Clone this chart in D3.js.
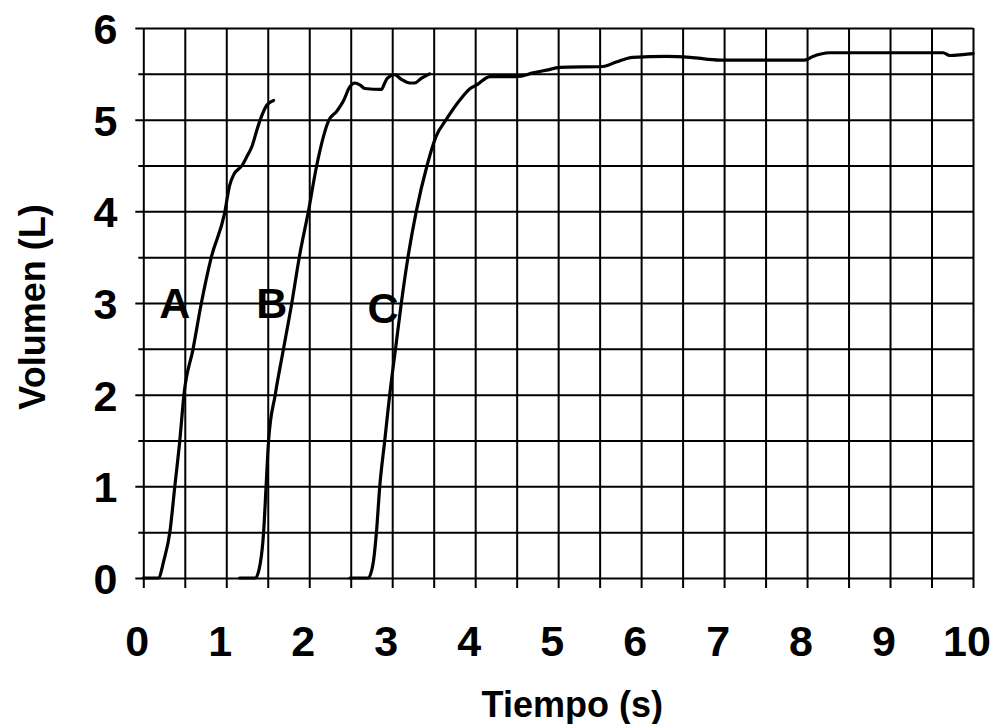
<!DOCTYPE html>
<html>
<head>
<meta charset="utf-8">
<script src="https://cdn.jsdelivr.net/npm/d3@7"></script>
<style>
  body { margin: 0; background: #fff; }
  svg { display: block; font-family: "Liberation Sans", Arial, sans-serif; }
</style>
</head>
<body>
<div id="chart"></div>
<script>
// curve A
const tA = [0, 0.18, 0.25, 0.32, 0.38, 0.44, 0.49, 0.60, 0.70, 0.82, 0.98, 1.04, 1.09, 1.19, 1.25, 1.31, 1.37, 1.41, 1.49, 1.57];
const vA = [0, 0, 0.2, 0.5, 1.0, 1.5, 2.0, 2.5, 3.0, 3.5, 3.98, 4.28, 4.40, 4.50, 4.60, 4.71, 4.89, 5.0, 5.16, 5.21];
// curve B
const tB = [1.16, 1.35, 1.41, 1.45, 1.48, 1.51, 1.59, 1.69, 1.79, 1.88, 1.99, 2.09, 2.24, 2.33, 2.41, 2.49, 2.55, 2.61, 2.67, 2.87, 2.91, 2.94, 3.03, 3.11, 3.21, 3.27, 3.35, 3.45];
const vB = [0, 0, 0.16, 0.5, 1.0, 1.5, 2.0, 2.5, 3.0, 3.5, 4.0, 4.5, 5.0, 5.09, 5.20, 5.36, 5.40, 5.38, 5.34, 5.33, 5.40, 5.45, 5.49, 5.44, 5.40, 5.40, 5.45, 5.50];
// curve C
const tC = [2.49, 2.71, 2.77, 2.81, 2.85, 2.91, 2.97, 3.04, 3.11, 3.19, 3.29, 3.42, 3.53, 3.65, 3.82, 3.94, 4.02, 4.18, 4.50, 4.70, 4.86, 5.02, 5.54, 5.70, 5.90, 6.31, 6.59, 6.95, 7.79, 7.97, 8.07, 8.27, 8.51, 9.64, 9.72, 9.88, 10.0];
const vC = [0, 0, 0.16, 0.5, 1.0, 1.5, 2.0, 2.5, 3.0, 3.5, 4.0, 4.5, 4.82, 5.0, 5.22, 5.34, 5.38, 5.47, 5.47, 5.51, 5.54, 5.57, 5.58, 5.63, 5.68, 5.69, 5.68, 5.65, 5.65, 5.65, 5.69, 5.73, 5.73, 5.73, 5.70, 5.71, 5.72];

const curveNames = ["A", "B", "C"];
const labelPos = [[0.38, 3.0], [1.55, 3.0], [2.89, 2.95]];

const xTicks = d3.range(0, 11, 1);
const xGrid = d3.range(0, 10.01, 0.5);
const yTicks = d3.range(0, 7, 1);
const yMinor = d3.range(0.5, 6, 1);

const margin = { top: 28, right: 23, bottom: 146, left: 143.3 },
    width = 996 - margin.left - margin.right,
    height = 724 - margin.top - margin.bottom;

const x = d3.scaleLinear().domain([0, 10]).range([0, width]);
const y = d3.scaleLinear().domain([0, 6]).range([height, 0]);

const svg = d3.select("#chart")
    .append("svg")
    .attr("width", 996)
    .attr("height", 724)
    .append("g")
    .attr("transform", `translate(${margin.left},${margin.top})`);

// vertical grid + ticks below the axis
svg.append("g")
    .attr("class", "x-grid")
    .call(d3.axisBottom(x).tickValues(xGrid).tickSize(height + 10).tickFormat(""))
    .call(g => g.select(".domain").remove());

// horizontal grid + ticks left of the axis
svg.append("g")
    .attr("transform", `translate(${width},0)`)
    .call(d3.axisLeft(y).tickValues(yTicks).tickSize(width + 8).tickFormat(""))
    .call(g => g.select(".domain").remove());
svg.append("g")
    .attr("transform", `translate(${width},0)`)
    .call(d3.axisLeft(y).tickValues(yMinor).tickSize(width + 5).tickFormat(""))
    .call(g => g.select(".domain").remove());

svg.selectAll(".tick line")
    .attr("stroke", "#000")
    .attr("stroke-width", 2);

// tick labels
svg.append("g")
    .attr("transform", `translate(0,${height})`)
    .call(d3.axisBottom(x).tickValues(xTicks).tickSize(0).tickFormat(d3.format("d")))
    .call(g => g.select(".domain").remove())
    .selectAll("text")
    .attr("y", 78)
    .attr("dy", null)
    .attr("dx", -6.5)
    .style("font-size", "43px")
    .style("font-weight", "bold")
    .attr("fill", "#000");

svg.append("g")
    .call(d3.axisLeft(y).tickValues(yTicks).tickSize(0).tickFormat(d3.format("d")))
    .call(g => g.select(".domain").remove())
    .selectAll("text")
    .attr("x", -26)
    .attr("dy", "0.36em")
    .style("font-size", "43px")
    .style("font-weight", "bold")
    .attr("fill", "#000");

// curves
const line = d3.line()
    .x(d => x(d[0]))
    .y(d => y(d[1]))
    .curve(d3.curveMonotoneX);

const curves = [d3.zip(tA, vA), d3.zip(tB, vB), d3.zip(tC, vC)];

svg.append("g")
    .selectAll("path")
    .data(curves)
    .enter()
    .append("path")
    .attr("d", line)
    .attr("fill", "none")
    .attr("stroke", "#000")
    .attr("stroke-width", 3.2)
    .attr("stroke-linejoin", "round")
    .attr("stroke-linecap", "round");

svg.append("g")
    .selectAll("text")
    .data(curveNames)
    .enter()
    .append("text")
    .attr("x", (_, i) => x(labelPos[i][0]))
    .attr("y", (_, i) => y(labelPos[i][1]) + 15)
    .attr("text-anchor", "middle")
    .style("font-size", "43px")
    .style("font-weight", "bold")
    .text(d => d);

// axis titles
svg.append("text")
    .attr("x", 429)
    .attr("y", 689)
    .attr("text-anchor", "middle")
    .style("font-size", "36px")
    .style("font-weight", "bold")
    .text("Tiempo (s)");

svg.append("text")
    .attr("transform", `translate(${45 - margin.left},${307 - margin.top}) rotate(-90)`)
    .attr("text-anchor", "middle")
    .style("font-size", "36px")
    .style("font-weight", "bold")
    .text("Volumen (L)");
</script>
</body>
</html>
